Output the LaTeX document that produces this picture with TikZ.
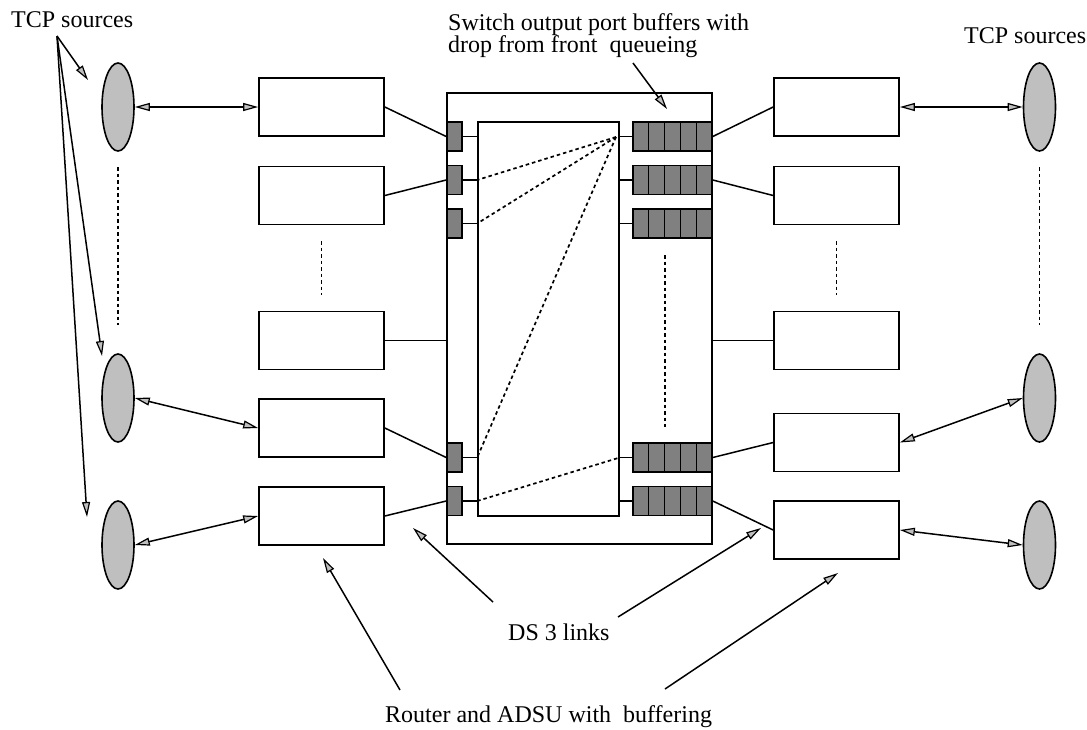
\documentclass[tikz,border=0pt]{standalone}
\usepackage{fontspec}
\setmainfont{Liberation Serif}
\usetikzlibrary{arrows.meta,shapes.geometric,calc}
\tikzset{
  box/.style={draw, line width=1.7pt, minimum width=125pt, minimum height=58pt, inner sep=0pt},
  src/.style={draw, ellipse, line width=1.6pt, fill=gray!50, minimum width=32pt, minimum height=88pt, inner sep=0pt},
  lbuf/.style={draw, line width=1.6pt, fill=gray, minimum width=15pt, minimum height=29pt, inner sep=0pt},
  rbuf/.style={draw, line width=1.6pt, fill=gray, minimum width=79pt, minimum height=29pt, inner sep=0pt},
  frame/.style={draw, line width=1.6pt, inner sep=0pt},
  wire/.style={line width=1.5pt},
  dots/.style={line width=1.7pt, dash pattern=on 3.5pt off 3pt},
  ahead/.tip={Triangle[length=15pt,width=8pt,fill=gray!50,line width=1.2pt]},
  tip/.style={-ahead, line width=1.5pt},
  dtip/.style={ahead-ahead, line width=1.5pt},
  lbl/.style={anchor=base west, inner sep=0pt, font=\fontsize{24}{22}\selectfont, align=left},
}
\begin{document}
\begin{tikzpicture}[x=1pt,y=-1pt]
\useasboundingbox (0,0) rectangle (1087,729);
% switch
\node[frame, minimum width=265pt, minimum height=451pt] (SW) at (579.5,318.5) {};
\node[frame, minimum width=141pt, minimum height=394pt] (IN) at (548.5,319) {};
% left buffers
\node[lbuf] (LB1) at (454.5,136.5) {};
\node[lbuf] (LB2) at (454.5,180) {};
\node[lbuf] (LB3) at (454.5,223.5) {};
\node[lbuf] (LB4) at (454.5,457.5) {};
\node[lbuf] (LB5) at (454.5,501) {};
% right buffers
\foreach \i/\y in {1/136.5,2/180,3/223.5,4/457.5,5/501}{
  \node[rbuf] (RB\i) at (672.5,\y) {};
  \foreach \k in {1,2,3,4}{
    \draw[line width=1.6pt] ($(RB\i.north west)!\k/5!(RB\i.north east)$) -- ($(RB\i.south west)!\k/5!(RB\i.south east)$);
  }
  \draw[wire] (RB\i.west) -- (IN.east |- RB\i.west);
}
\foreach \i in {1,2,3,4,5}{
  \draw[wire] (LB\i.east) -- (IN.west |- LB\i.east);
}
% boxes
\node[box] (L1) at (321.5,107) {};
\node[box] (L2) at (321.5,195.5) {};
\node[box] (L3) at (321.5,340.5) {};
\node[box] (L4) at (321.5,428) {};
\node[box] (L5) at (321.5,516) {};
\node[box] (R1) at (836.5,107) {};
\node[box] (R2) at (836.5,195.5) {};
\node[box] (R3) at (836.5,340.5) {};
\node[box] (R4) at (836.5,442.5) {};
\node[box] (R5) at (836.5,530) {};
% sources
\node[src] (LE1) at (118,107) {};
\node[src] (LE2) at (118,398) {};
\node[src] (LE3) at (118,545) {};
\node[src] (RE1) at (1039.5,107) {};
\node[src] (RE2) at (1039.5,398) {};
\node[src] (RE3) at (1039.5,545) {};
% links to switch
\draw[wire] (L1.east) -- (LB1.west);
\draw[wire] (L2.east) -- (LB2.west);
\draw[wire] (L3.east) -- (SW.west |- L3.east);
\draw[wire] (L4.east) -- (LB4.west);
\draw[wire] (L5.east) -- (LB5.west);
\draw[wire] (RB1.east) -- (R1.west);
\draw[wire] (RB2.east) -- (R2.west);
\draw[wire] (SW.east |- R3.west) -- (R3.west);
\draw[wire] (RB4.east) -- (R4.west);
\draw[wire] (RB5.east) -- (R5.west);
% source links
\draw[dtip] (LE1.east) -- (L1.west);
\draw[dtip] (LE2.east) -- (L4.west);
\draw[dtip] (LE3.east) -- (L5.west);
\draw[dtip] (R1.east) -- (RE1.west);
\draw[dtip] (R4.east) -- (RE2.west);
\draw[dtip] (R5.east) -- (RE3.west);
% fan of dotted lines
\coordinate (F) at (616,137);
\draw[dots] (F) -- (IN.west |- LB2.east);
\draw[dots] (F) -- (IN.west |- LB3.east);
\draw[dots] (F) -- (IN.west |- LB4.east);
\draw[dots] (IN.west |- LB5.east) -- (IN.east |- RB4.west);
% vertical dotted
\coordinate (d1a) at (118,167); \coordinate (d1b) at (118,325);
\coordinate (d2a) at (321.5,241); \coordinate (d2b) at (321.5,295);
\coordinate (d3a) at (836.5,241); \coordinate (d3b) at (836.5,295);
\coordinate (d4a) at (1039.5,167); \coordinate (d4b) at (1039.5,325);
\coordinate (d5a) at (665,255); \coordinate (d5b) at (665,427);
\foreach \a in {1,...,5}{ \draw[dots] (d\a a) -- (d\a b); }
% labels
\node[lbl] (tcpl) at (11,27) {TCP sources};
\node[lbl] (tcpr) at (964,43) {TCP sources};
\node[lbl] (swl1) at (448,30) {Switch output port buffers with};
\node[lbl] (swl2) at (448,52) {drop from front\ \ queueing};
\node[lbl] (ds3) at (508,640) {DS 3 links};
\node[lbl] (rtr) at (385,722) {Router and ADSU with\ \ buffering};
% TCP arrows
\coordinate (T) at (57,36);
\coordinate (t1) at (88,80);
\coordinate (t2) at (102,356);
\coordinate (t3) at (87,517);
\draw[tip] (T) -- (t1);
\draw[tip] (T) -- (t2);
\draw[tip] (T) -- (t3);
% switch arrow
\coordinate (s0) at (633,63);
\coordinate (s1) at (667,109);
\draw[tip] (s0) -- (s1);
% DS3 arrows
\coordinate (a0) at (493,602); \coordinate (a1) at (413,528);
\coordinate (b0) at (618,617); \coordinate (b1) at (761,528);
\draw[tip] (a0) -- (a1);
\draw[tip] (b0) -- (b1);
% router arrows
\coordinate (c0) at (400,690); \coordinate (c1) at (323,558);
\coordinate (e0) at (665,689); \coordinate (e1) at (838,573);
\draw[tip] (c0) -- (c1);
\draw[tip] (e0) -- (e1);
\end{tikzpicture}
\end{document}
